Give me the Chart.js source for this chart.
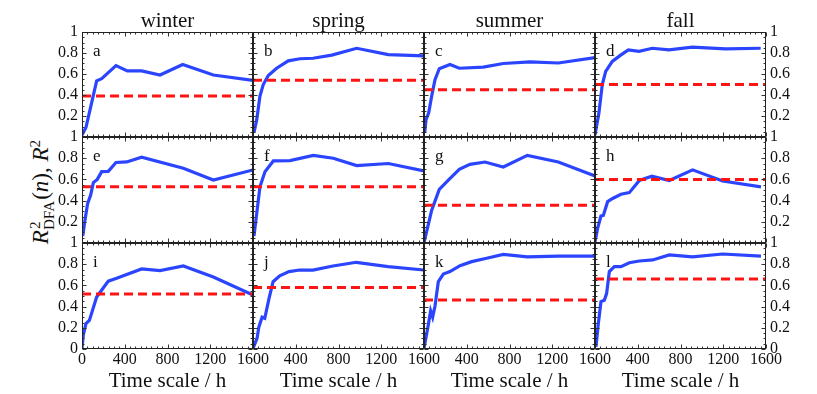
<!DOCTYPE html>
<html>
<head>
<meta charset="utf-8">
<script src="https://cdn.jsdelivr.net/npm/chart.js@4.4.1/dist/chart.umd.min.js"></script>
<style>
  body { margin: 0; background: #fff; }
  #wrap { position: relative; width: 817px; height: 394px; overflow: hidden; }
  #wrap canvas { position: absolute; left: 0; top: 0; }
  #ylab {
    position: absolute; left: 41px; top: 192px;
    transform: translate(-50%, -50%) rotate(-90deg);
    font-family: "Liberation Serif", serif; font-size: 23px; line-height: 1.2; white-space: nowrap; color: #111;
  }
  #ylab .ss { display: inline-block; position: relative; font-size: 0.66em; top: 0.42em; margin-right: 1px; }
  #ylab .ss .up { position: absolute; left: 1px; top: -0.95em; }
  #ylab .sp { font-size: 0.66em; position: relative; top: -0.55em; }
</style>
</head>
<body>
<div id="wrap">
  <div id="ylab"><i>R</i><span class="ss"><span class="up">2</span>DFA</span>(<i>n</i>), <i>R</i><span class="sp">2</span></div>
</div>
<script>
// etiquetas e eixos
const seasons = ['winter', 'spring', 'summer', 'fall'];
const letters = ['a', 'b', 'c', 'd', 'e', 'f', 'g', 'h', 'i', 'j', 'k', 'l'];
const xTicks = [0, 400, 800, 1200, 1600];
const yTicks = [0, 0.2, 0.4, 0.6, 0.8, 1];

// séries (escala de tempo em h, R^2)
const aT = [0, 37, 137, 184, 318, 424, 558, 730, 942, 1229, 1600];
const aV = [0.02, 0.09, 0.535, 0.555, 0.68, 0.63, 0.63, 0.59, 0.69, 0.59, 0.54];
const bT = [10, 35, 65, 96, 143, 221, 330, 440, 562, 737, 970, 1266, 1600];
const bV = [0.045, 0.165, 0.39, 0.5, 0.585, 0.655, 0.725, 0.745, 0.75, 0.78, 0.845, 0.785, 0.773];
const cT = [7, 19, 44, 72, 103, 143, 243, 330, 555, 742, 992, 1257, 1600];
const cV = [0.045, 0.165, 0.23, 0.39, 0.545, 0.65, 0.69, 0.655, 0.665, 0.7, 0.715, 0.705, 0.757];
const dT = [0, 37, 68, 100, 162, 240, 312, 412, 536, 692, 910, 1222, 1550];
const dV = [0.02, 0.23, 0.5, 0.625, 0.72, 0.78, 0.83, 0.815, 0.845, 0.83, 0.855, 0.84, 0.845];
const eT = [7, 28, 53, 81, 106, 143, 184, 246, 318, 418, 558, 948, 1229, 1600];
const eV = [0.066, 0.217, 0.374, 0.453, 0.57, 0.6, 0.673, 0.676, 0.76, 0.765, 0.81, 0.705, 0.594, 0.689];
const fT = [9, 35, 65, 112, 190, 346, 564, 751, 970, 1266, 1600];
const fV = [0.066, 0.28, 0.53, 0.673, 0.774, 0.777, 0.827, 0.8, 0.73, 0.75, 0.68];
const gT = [0, 72, 143, 228, 330, 430, 571, 742, 967, 1257, 1600];
const gV = [0.003, 0.31, 0.506, 0.594, 0.695, 0.742, 0.764, 0.717, 0.827, 0.764, 0.632];
const hT = [0, 25, 56, 78, 118, 165, 243, 321, 415, 533, 695, 913, 1194, 1553];
const hV = [0.012, 0.14, 0.255, 0.26, 0.39, 0.42, 0.46, 0.475, 0.59, 0.63, 0.59, 0.69, 0.585, 0.53];
const iT = [0, 12, 37, 69, 137, 246, 324, 558, 730, 948, 1229, 1600];
const iV = [0.006, 0.13, 0.24, 0.27, 0.49, 0.64, 0.667, 0.755, 0.74, 0.783, 0.68, 0.51];
const jT = [0, 38, 54, 85, 110, 150, 188, 250, 337, 437, 561, 748, 967, 1264, 1600];
const jV = [0.006, 0.1, 0.205, 0.3, 0.29, 0.478, 0.635, 0.69, 0.73, 0.745, 0.745, 0.783, 0.818, 0.777, 0.745];
const kT = [0, 40, 62, 81, 103, 134, 181, 243, 337, 446, 586, 742, 967, 1257, 1600];
const kV = [0.006, 0.226, 0.36, 0.3, 0.405, 0.635, 0.707, 0.73, 0.786, 0.824, 0.856, 0.893, 0.87, 0.877, 0.877];
const lT = [9, 31, 56, 87, 109, 134, 181, 243, 321, 415, 540, 695, 913, 1194, 1553];
const lV = [0.02, 0.24, 0.447, 0.46, 0.525, 0.73, 0.777, 0.777, 0.814, 0.83, 0.84, 0.887, 0.87, 0.896, 0.877];

// limiar (linha tracejada) de cada painel
const thresholds = [0.39, 0.54, 0.45, 0.5, 0.53, 0.53, 0.355, 0.6, 0.52, 0.58, 0.462, 0.66];

const times = [aT, bT, cT, dT, eT, fT, gT, hT, iT, jT, kT, lT];
const values = [aV, bV, cV, dV, eV, fV, gV, hV, iV, jV, kV, lV];

// posição dos painéis na página
const W = 817, H = 394;
const colEdges = [82, 253, 424, 595, 766];
const rowEdges = [32, 137, 243, 349];
const Y_W = 44, X_H = 45;
const FONT = 'Liberation Serif';

// moldura, marcas internas, letra e estação
const framePlugin = {
  id: 'frame',
  afterDraw(chart, args, opts) {
    const ctx = chart.ctx;
    const a = chart.chartArea;
    const x = chart.scales.x, y = chart.scales.y;
    const L = Math.round(a.left) + 0.5, R = Math.round(a.right) - 0.5;
    const T = Math.round(a.top) + 0.5, B = Math.round(a.bottom) - 0.5;
    ctx.save();
    ctx.strokeStyle = '#333';
    ctx.lineWidth = 1;
    ctx.beginPath();
    for (let t = 0; t <= 1600; t += 50) {
      const px = Math.round(x.getPixelForValue(t)) + 0.5;
      const len = t % 400 === 0 ? 4 : 2;
      ctx.moveTo(px, T); ctx.lineTo(px, T + len);
      ctx.moveTo(px, B); ctx.lineTo(px, B - len);
    }
    for (let k = 0; k <= 20; k++) {
      const py = Math.round(y.getPixelForValue(k * 0.05)) + 0.5;
      const len = k % 4 === 0 ? 4 : 2;
      ctx.moveTo(L, py); ctx.lineTo(L + len, py);
      ctx.moveTo(R, py); ctx.lineTo(R - len, py);
    }
    ctx.stroke();
    ctx.strokeStyle = '#222';
    ctx.strokeRect(L, T, R - L, B - T);
    ctx.fillStyle = '#111';
    ctx.textBaseline = 'alphabetic';
    ctx.font = '17px "' + FONT + '"';
    ctx.textAlign = 'left';
    ctx.fillText(opts.letter, a.left + 11, a.top + 23.5);
    if (opts.season) {
      ctx.font = '21px "' + FONT + '"';
      ctx.textAlign = 'center';
      ctx.fillText(opts.season, (a.left + a.right) / 2, a.top - 5);
    }
    ctx.restore();
  }
};

const wrap = document.getElementById('wrap');

for (let p = 0; p < 12; p++) {
  const r = Math.floor(p / 4), c = p % 4;
  const canvas = document.createElement('canvas');
  canvas.width = W; canvas.height = H;
  wrap.appendChild(canvas);

  const showY = c === 0 || c === 3;
  const yW = showY ? Y_W : 0;
  const bottomRow = r === 2;
  const xH = bottomRow ? X_H : 0;
  const L = colEdges[c], R = colEdges[c + 1], T = rowEdges[r], B = rowEdges[r + 1];

  const blue = times[p].map((t, i) => ({ x: t, y: values[p][i] }));
  const red = [{ x: 0, y: thresholds[p] }, { x: 1600, y: thresholds[p] }];

  new Chart(canvas, {
    type: 'line',
    data: {
      datasets: [
        { data: red, borderColor: '#ff1414', borderWidth: 3, borderDash: [9, 5], pointRadius: 0, tension: 0 },
        { data: blue, borderColor: '#2b45ff', borderWidth: 3.2, pointRadius: 0, tension: 0 }
      ]
    },
    options: {
      responsive: false,
      animation: false,
      devicePixelRatio: 1,
      events: [],
      layout: {
        padding: {
          left: L - (c === 0 ? yW : 0),
          right: W - R - (c === 3 ? yW : 0),
          top: T,
          bottom: H - B - xH
        }
      },
      plugins: {
        legend: { display: false },
        tooltip: { enabled: false },
        frame: { letter: letters[p], season: r === 0 ? seasons[c] : '' }
      },
      scales: {
        x: {
          type: 'linear', position: 'bottom', min: 0, max: 1600,
          grid: { display: false, drawTicks: false, tickLength: 0 }, border: { display: false },
          afterBuildTicks: s => { s.ticks = xTicks.filter(v => c === 0 || v > 0).map(v => ({ value: v })); },
          afterFit: s => { s.height = xH; },
          ticks: {
            display: bottomRow, autoSkip: false, maxRotation: 0, padding: 1, color: '#111',
            font: { family: FONT, size: 16 },
            callback: v => String(v)
          },
          title: {
            display: bottomRow, text: 'Time scale / h', color: '#111',
            font: { family: FONT, size: 21 }, padding: { top: 0, bottom: 0 }
          }
        },
        y: {
          type: 'linear', position: c === 3 ? 'right' : 'left', min: 0, max: 1,
          grid: { display: false, drawTicks: false, tickLength: 0 }, border: { display: false },
          afterBuildTicks: s => { s.ticks = yTicks.filter(v => bottomRow || v > 0).map(v => ({ value: v })); },
          afterFit: s => { s.width = yW; },
          ticks: {
            display: showY, autoSkip: false, padding: 4, color: '#111',
            font: { family: FONT, size: 16 },
            callback: v => String(v)
          }
        }
      }
    },
    plugins: [framePlugin]
  });
}
</script>
</body>
</html>
